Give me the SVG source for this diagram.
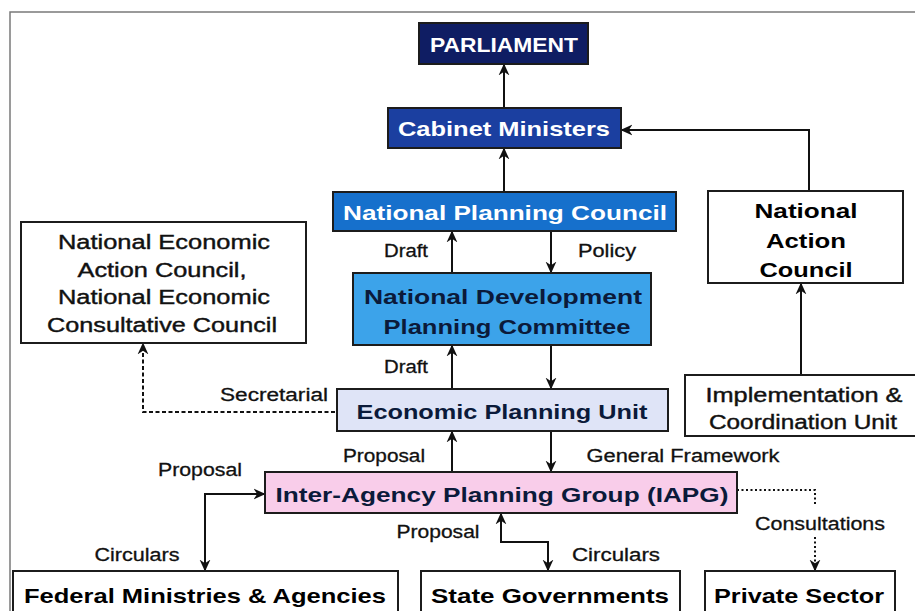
<svg xmlns="http://www.w3.org/2000/svg" width="915" height="611" viewBox="0 0 915 611">
  <defs>
    <marker id="arrow" viewBox="0 0 10 10" refX="9.5" refY="5" markerUnits="userSpaceOnUse" markerWidth="12" markerHeight="12" orient="auto-start-reverse">
      <path d="M0,0.5 L10,5 L0,9.5 L3,5 Z" fill="#111"/>
    </marker>
    <style>
      .frame { fill: none; stroke: #7a7a7a; stroke-width: 1.5; }
      .box { stroke: #1c1c1c; stroke-width: 2; }
      .plain { fill: #ffffff; }
      .t { font-family: "Liberation Sans", Arial, sans-serif; text-anchor: middle; }
      .title { font-size: 21px; font-weight: bold; }
      .body { font-size: 20px; fill: #111; stroke: #111; stroke-width: 0.4; }
      .lbl { font-size: 18px; fill: #111; stroke: #111; stroke-width: 0.3; }
      .white { fill: #ffffff; }
      .dark { fill: #0b1a3a; }
      .link { fill: none; stroke: #111; stroke-width: 2; }
      .dash { stroke-dasharray: 4 2.5; }
      .dot { stroke-dasharray: 2 2.5; }
    </style>
  </defs>

  <rect width="915" height="611" fill="#ffffff"/>

  <!-- outer frame, open to the right and bottom -->
  <path class="frame" d="M10,611 L10,12 L915,12"/>

  <!-- connectors -->
  <g id="connectors">
    <line class="link" x1="504" y1="108" x2="504" y2="64" marker-end="url(#arrow)"/>
    <line class="link" x1="504" y1="192" x2="504" y2="148" marker-end="url(#arrow)"/>
    <path class="link" d="M809,191 L809,130 L621,130" marker-end="url(#arrow)"/>
    <line class="link" x1="452" y1="273" x2="452" y2="231" marker-end="url(#arrow)"/>
    <line class="link" x1="551" y1="231" x2="551" y2="273" marker-end="url(#arrow)"/>
    <line class="link" x1="452" y1="389" x2="452" y2="345" marker-end="url(#arrow)"/>
    <line class="link" x1="551" y1="345" x2="551" y2="389" marker-end="url(#arrow)"/>
    <line class="link" x1="801" y1="375" x2="801" y2="283" marker-end="url(#arrow)"/>
    <path class="link dash" d="M335,412 L143,412 L143,343" marker-end="url(#arrow)"/>
    <line class="link" x1="452" y1="472" x2="452" y2="431" marker-end="url(#arrow)"/>
    <line class="link" x1="551" y1="431" x2="551" y2="472" marker-end="url(#arrow)"/>
    <path class="link" d="M265,494 L205,494 L205,571" marker-start="url(#arrow)" marker-end="url(#arrow)"/>
    <path class="link" d="M501,513 L501,542 L548,542 L548,571" marker-start="url(#arrow)" marker-end="url(#arrow)"/>
    <path class="link dot" d="M737,490 L815,490 L815,506"/>
    <line class="link dot" x1="815" y1="537" x2="815" y2="571" marker-end="url(#arrow)"/>

    <text class="t lbl" x="406" y="257" textLength="44" lengthAdjust="spacingAndGlyphs">Draft</text>
    <text class="t lbl" x="607" y="257" textLength="58" lengthAdjust="spacingAndGlyphs">Policy</text>
    <text class="t lbl" x="406" y="373" textLength="44" lengthAdjust="spacingAndGlyphs">Draft</text>
    <text class="t lbl" x="274" y="401" textLength="108" lengthAdjust="spacingAndGlyphs">Secretarial</text>
    <text class="t lbl" x="384" y="462" textLength="82" lengthAdjust="spacingAndGlyphs">Proposal</text>
    <text class="t lbl" x="683" y="462" textLength="193" lengthAdjust="spacingAndGlyphs">General Framework</text>
    <text class="t lbl" x="200" y="476" textLength="84" lengthAdjust="spacingAndGlyphs">Proposal</text>
    <text class="t lbl" x="137" y="561" textLength="85" lengthAdjust="spacingAndGlyphs">Circulars</text>
    <text class="t lbl" x="438" y="538" textLength="83" lengthAdjust="spacingAndGlyphs">Proposal</text>
    <text class="t lbl" x="616" y="561" textLength="88" lengthAdjust="spacingAndGlyphs">Circulars</text>
    <text class="t lbl" x="820" y="530" textLength="130" lengthAdjust="spacingAndGlyphs">Consultations</text>
  </g>

  <!-- nodes -->
  <g id="parliament">
    <rect class="box" x="419" y="23" width="169" height="41" fill="#0f1d63"/>
    <text class="t title white" x="504" y="52" textLength="148" lengthAdjust="spacingAndGlyphs">PARLIAMENT</text>
  </g>

  <g id="cabinet-ministers">
    <rect class="box" x="388" y="108" width="233" height="40" fill="#1b3fa0"/>
    <text class="t title white" x="504" y="136" textLength="212" lengthAdjust="spacingAndGlyphs">Cabinet Ministers</text>
  </g>

  <g id="national-planning-council">
    <rect class="box" x="333" y="192" width="343" height="39" fill="#1670cc"/>
    <text class="t title white" x="505" y="220" textLength="324" lengthAdjust="spacingAndGlyphs">National Planning Council</text>
  </g>

  <g id="national-development-planning-committee">
    <rect class="box" x="353" y="273" width="298" height="72" fill="#3ca3ea"/>
    <text class="t title dark" x="503" y="304" textLength="278" lengthAdjust="spacingAndGlyphs">National Development</text>
    <text class="t title dark" x="507" y="334" textLength="247" lengthAdjust="spacingAndGlyphs">Planning Committee</text>
  </g>

  <g id="economic-planning-unit">
    <rect class="box" x="337" y="389" width="331" height="42" fill="#dfe4f7"/>
    <text class="t title dark" x="502" y="419" textLength="291" lengthAdjust="spacingAndGlyphs">Economic Planning Unit</text>
  </g>

  <g id="iapg">
    <rect class="box" x="265" y="472" width="472" height="41" fill="#f9cdea"/>
    <text class="t title dark" x="502" y="502" textLength="453" lengthAdjust="spacingAndGlyphs">Inter-Agency Planning Group (IAPG)</text>
  </g>

  <g id="economic-councils">
    <rect class="box plain" x="21" y="222" width="285" height="121"/>
    <text class="t body" x="164" y="249" textLength="212" lengthAdjust="spacingAndGlyphs">National Economic</text>
    <text class="t body" x="162" y="277" textLength="169" lengthAdjust="spacingAndGlyphs">Action Council,</text>
    <text class="t body" x="164" y="304" textLength="212" lengthAdjust="spacingAndGlyphs">National Economic</text>
    <text class="t body" x="162" y="332" textLength="230" lengthAdjust="spacingAndGlyphs">Consultative Council</text>
  </g>

  <g id="national-action-council">
    <rect class="box plain" x="708" y="191" width="195" height="92"/>
    <text class="t title" x="806" y="218" textLength="103" lengthAdjust="spacingAndGlyphs">National</text>
    <text class="t title" x="806" y="248" textLength="80" lengthAdjust="spacingAndGlyphs">Action</text>
    <text class="t title" x="806" y="277" textLength="93" lengthAdjust="spacingAndGlyphs">Council</text>
  </g>

  <g id="implementation-coordination-unit">
    <rect class="box plain" x="685" y="375" width="240" height="61"/>
    <text class="t body" x="804" y="402" textLength="197" lengthAdjust="spacingAndGlyphs">Implementation &amp;</text>
    <text class="t body" x="803" y="429" textLength="188" lengthAdjust="spacingAndGlyphs">Coordination Unit</text>
  </g>

  <g id="federal-ministries">
    <rect class="box plain" x="13" y="571" width="385" height="50"/>
    <text class="t title" x="205" y="603" textLength="362" lengthAdjust="spacingAndGlyphs">Federal Ministries &amp; Agencies</text>
  </g>

  <g id="state-governments">
    <rect class="box plain" x="421" y="571" width="259" height="50"/>
    <text class="t title" x="550" y="603" textLength="238" lengthAdjust="spacingAndGlyphs">State Governments</text>
  </g>

  <g id="private-sector">
    <rect class="box plain" x="705" y="571" width="190" height="50"/>
    <text class="t title" x="799" y="603" textLength="170" lengthAdjust="spacingAndGlyphs">Private Sector</text>
  </g>
</svg>
